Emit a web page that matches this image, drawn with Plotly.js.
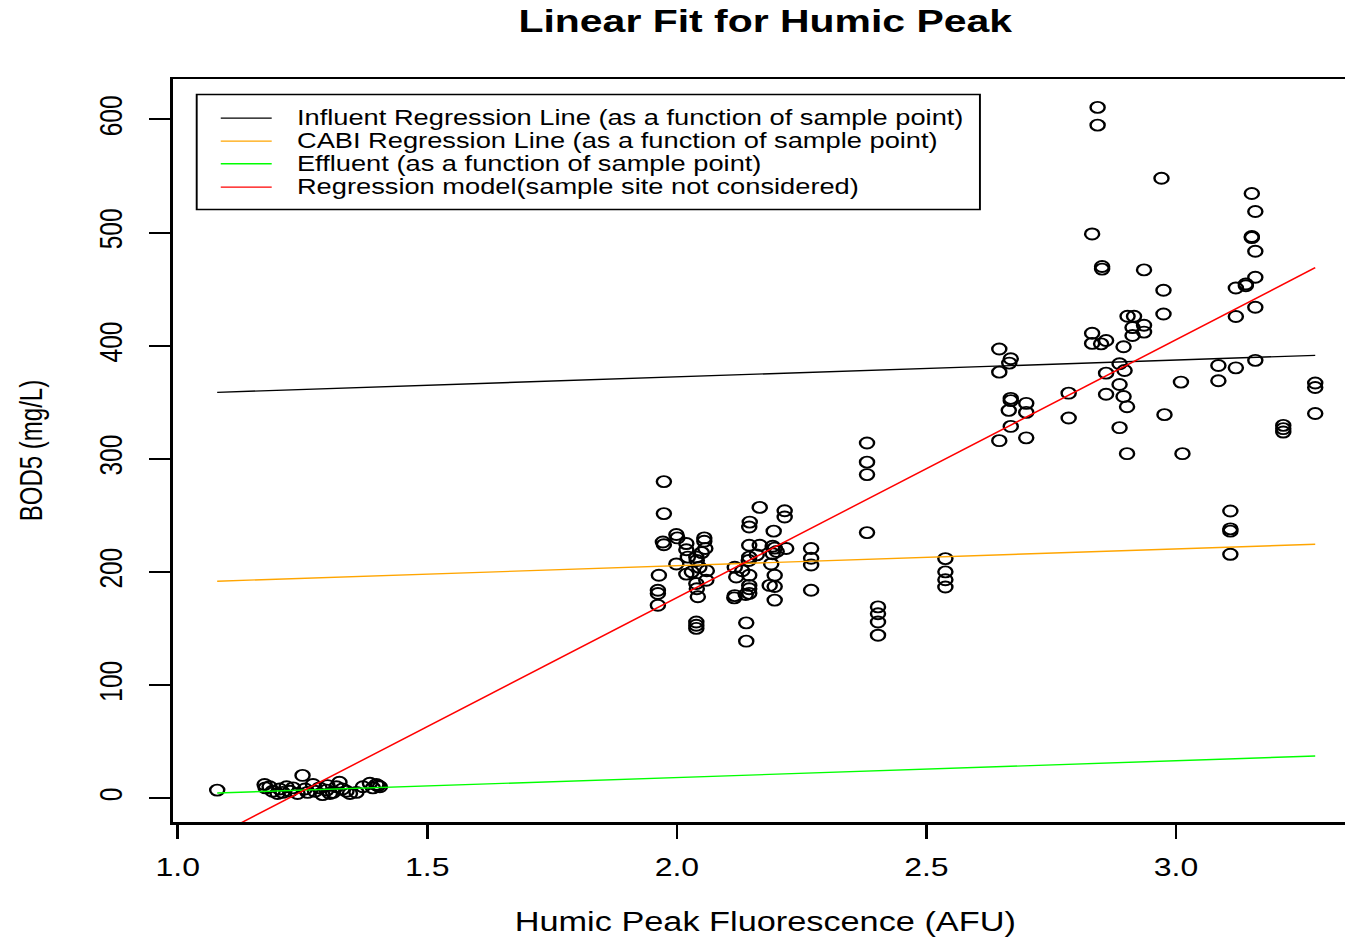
<!DOCTYPE html>
<html>
<head>
<meta charset="utf-8">
<script src="https://cdn.plot.ly/plotly-3.0.1.min.js"></script>
<style>
  html, body { margin: 0; padding: 0; background: #fff; }
  #wrap { width: 1345px; height: 937px; overflow: hidden; position: relative; }
  #chart { width: 1061px; height: 937px; transform: scaleX(1.27973); transform-origin: 0 0; }
</style>
</head>
<body>
<div id="wrap"><div id="chart"></div></div>
<script>
// ---- Data ----
const effluentX = [1.079,1.174,1.176,1.184,1.19,1.20,1.204,1.21,1.218,1.225,1.231,1.24,1.25,1.255,1.26,1.271,1.275,1.284,1.29,1.298,1.30,1.305,1.311,1.318,1.324,1.33,1.338,1.345,1.358,1.371,1.385,1.391,1.398,1.401,1.405];
const effluentY = [7,12,9,10,6,4,8,5,10,6,9,4,20,8,5,12,6,9,3,7,11,4,5,10,14,8,6,4,5,10,13,9,12,11,10];

const cabiX = [1.974,1.974,1.972,1.974,1.999,2.001,2.019,2.055,2.055,2.019,2.022,2.039,2.040,2.045,2.057,1.999,2.019,1.964,1.962,1.962,1.962,2.039,2.040,2.042,2.059,2.039,2.039,2.039,2.139,2.139,2.116,2.119,2.116,2.115,2.131,2.144,2.145,2.145,2.145,2.146,2.166,2.216,2.216,2.194,2.166,2.192,2.196,2.219,2.192,2.145,2.145,2.145,2.145,2.138,2.186,2.196,2.196,2.189,2.196,2.269,2.269,2.269,2.269,2.030,2.050,2.060,2.160,2.200,2.381,2.381,2.381,2.381,2.538,2.538,2.538,2.538,2.403,2.403,2.403,2.403];
const cabiY = [279.8,251.5,226.4,224,233,230,225,230,227,219.5,213,213,210,204,220.6,207,198,197,183.7,180.8,170.5,189.7,185,178,192.6,155.7,152.8,150,154.9,138.7,204,195.5,179,177,201,210,213,223.5,239.7,244,257,254,248.5,236,223.5,222.6,221,220.6,216,197,188,185,181,180,188,187,197,207,175,220.6,212,206,183.7,200,217,201,215,218,313.9,297,286,234.7,211.7,200,193,186.6,169,163,155.7,144];

const influentX = [2.646,2.669,2.666,2.646,2.669,2.669,2.700,2.665,2.700,2.669,2.646,2.700,2.785,2.785,2.832,2.832,2.850,2.860,2.895,2.913,2.936,2.936,2.913,2.887,2.897,2.860,2.887,2.860,2.895,2.902,2.887,2.902,2.977,3.010,3.013,2.843,2.843,2.971,2.832,2.852,2.852,2.936,2.975,2.975,3.152,3.159,3.152,3.152,3.159,3.159,3.120,3.140,3.140,3.159,3.120,2.903,2.916,3.085,3.120,3.159,3.085,3.279,3.279,3.279,3.215,3.215,3.215,3.109,3.109,3.109,3.109];
const influentY = [397,388.4,384.6,376.6,353.4,351.4,349,342.8,341,328.6,316,318.5,358,336,411,402,401.6,404.6,399,416,418,412,409,384,378,375.7,365.7,357,355,346,327.5,304.5,339,367.8,304.5,610.7,595,548,498.8,470,467.7,467,449,428,534.5,518.6,496.5,495.5,483.5,460.5,451,454.5,453,434,425.8,426,426,382.5,380.4,387,369,367,363,340,329.5,326.6,323.6,253.8,238,236,215.5];

// Fitted models: name, intercept, slope, colour
const lineNames = ["Influent Regression Line (as a function of sample point)",
                   "CABI Regression Line (as a function of sample point)",
                   "Effluent (as a function of sample point)",
                   "Regression model(sample site not considered)"];
const lineIntercepts = [342.7, 175.7, -11.6, -279.0];
const lineSlopes = [14.86, 14.86, 14.86, 228.1];
const lineColors = ["#000000", "#FFA500", "#00FF00", "#FF0000"];

const xTicks = [1.0, 1.5, 2.0, 2.5, 3.0];
const yTicks = [0, 100, 200, 300, 400, 500, 600];

// ---- Geometry (pre-stretch pixels) ----
const W = 1061, H = 937;
const M = { l: 135.2, r: 0, t: 78.5, b: 115 };
const domW = W - M.l - M.r, domH = H - M.t - M.b;
const px2paperX = p => (p - M.l) / domW;
const px2paperY = p => (H - M.b - p) / domH;

// ---- Build traces ----
const allX = effluentX.concat(cabiX, influentX);
const xMin = Math.min(...allX), xMax = Math.max(...allX);

const marker = { symbol: 'circle-open', size: 11, color: '#000', line: { width: 1.9, color: '#000' } };
const traces = [
  { x: effluentX, y: effluentY, type: 'scatter', mode: 'markers', marker, showlegend: false, name: 'Effluent' },
  { x: cabiX, y: cabiY, type: 'scatter', mode: 'markers', marker, showlegend: false, name: 'CABI' },
  { x: influentX, y: influentY, type: 'scatter', mode: 'markers', marker, showlegend: false, name: 'Influent' }
];
for (let i = 0; i < lineNames.length; i++) {
  traces.push({
    x: [xMin, xMax],
    y: [lineIntercepts[i] + lineSlopes[i] * xMin, lineIntercepts[i] + lineSlopes[i] * xMax],
    type: 'scatter', mode: 'lines', name: lineNames[i], showlegend: false,
    line: { color: lineColors[i], width: 1.4 }
  });
}

const F = 'Liberation Sans, Arial, sans-serif';

// ---- Legend box (drawn like R's legend()) ----
const legRowsY = [117.7, 140.7, 163.3, 186.7];
const shapes = [{
  type: 'rect', xref: 'paper', yref: 'paper',
  x0: px2paperX(153.9), x1: px2paperX(765.8), y0: px2paperY(209), y1: px2paperY(94),
  line: { color: '#000', width: 1.5 }, fillcolor: '#fff', layer: 'above'
}];
const annotations = [];
for (let i = 0; i < lineNames.length; i++) {
  shapes.push({
    type: 'line', xref: 'paper', yref: 'paper',
    x0: px2paperX(172.7), x1: px2paperX(212.5), y0: px2paperY(legRowsY[i]), y1: px2paperY(legRowsY[i]),
    line: { color: lineColors[i], width: 1.4 }, layer: 'above'
  });
  annotations.push({
    xref: 'paper', yref: 'paper', x: px2paperX(229.8), y: px2paperY(legRowsY[i]),
    xanchor: 'left', yanchor: 'middle', showarrow: false, text: lineNames[i],
    font: { family: F, size: 21.3, color: '#000' }
  });
}

const layout = {
  width: W, height: H,
  margin: M,
  paper_bgcolor: '#fff', plot_bgcolor: '#fff',
  font: { family: F, color: '#000' },
  title: { text: '<b>Linear Fit for Humic Peak</b>', font: { family: F, size: 32, color: '#000' },
           x: 598 / W, xanchor: 'center', xref: 'container', y: 1 - 21 / H, yanchor: 'middle', yref: 'container' },
  xaxis: {
    range: [0.98998, 3.3643], showgrid: false, zeroline: false,
    showline: true, linecolor: '#000', linewidth: 2.5, mirror: true,
    tickmode: 'array', tickvals: xTicks, ticktext: xTicks.map(v => v.toFixed(1)),
    ticks: 'outside', ticklen: 14, tickwidth: 2, tickcolor: '#000',
    tickfont: { family: F, size: 25, color: '#000' }, ticklabelstandoff: 8,
    title: { text: 'Humic Peak Fluorescence (AFU)', font: { family: F, size: 26.8, color: '#000' }, standoff: 36 },
    automargin: false
  },
  yaxis: {
    range: [-21.2, 635.8], showgrid: false, zeroline: false,
    showline: true, linecolor: '#000', linewidth: 2.5, mirror: true,
    tickmode: 'array', tickvals: yTicks, ticktext: yTicks.map(String),
    ticks: 'outside', ticklen: 16, tickwidth: 2, tickcolor: '#000', tickangle: -90,
    tickfont: { family: F, size: 24.5, color: '#000' }, ticklabelstandoff: 11,
    title: { text: 'BOD5 (mg/L)', font: { family: F, size: 24, color: '#000' }, standoff: 34 },
    automargin: false
  },
  shapes, annotations,
  showlegend: false
};

Plotly.newPlot('chart', traces, layout, { staticPlot: true, displayModeBar: false });
</script>
</body>
</html>
